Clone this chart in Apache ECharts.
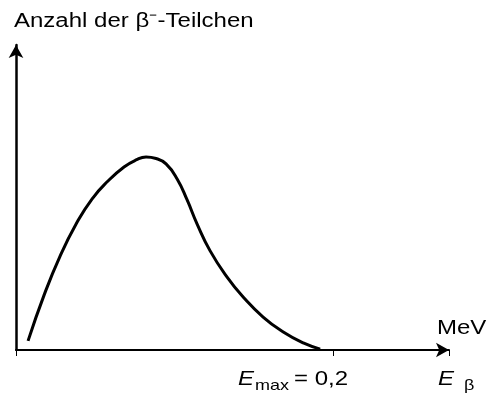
<!DOCTYPE html>
<html>
<head>
<meta charset="utf-8">
<script src="https://cdn.jsdelivr.net/npm/echarts@6/dist/echarts.min.js"></script>
<style>
  html, body { margin: 0; padding: 0; background: #fff; }
  #spektrum { width: 488px; height: 401px; }
</style>
</head>
<body>
<div id="spektrum"></div>
<script>
// Energie in MeV, Anzahl in willkürlichen Einheiten
var energie = [0.0076, 0.0177, 0.0278, 0.0379, 0.0479, 0.0580, 0.0681, 0.0757, 0.0820, 0.0883, 0.0946,
  0.1016, 0.1079, 0.1142, 0.1224, 0.1331, 0.1432, 0.1558, 0.1685, 0.1811, 0.1918];
var anzahl = [0.030, 0.180, 0.308, 0.413, 0.495, 0.554, 0.600, 0.623, 0.633, 0.628, 0.610,
  0.561, 0.492, 0.413, 0.325, 0.239, 0.174, 0.108, 0.059, 0.023, 0.003];
var eMax = 0.2;
var yName = 'Anzahl der β\u207B-Teilchen';
var xName = 'MeV';

var dados = [];
for (var i = 0; i < energie.length; i++) {
  dados.push([energie[i], anzahl[i]]);
}

var chartDom = document.getElementById('spektrum');
var myChart = echarts.init(chartDom);
var option;
var schrift = 'Liberation Sans, Arial, sans-serif';

// Texte im Original sind etwas breiter gezogen
function txt(x, y, s, font) {
  return {
    type: 'text', x: x, y: y, scaleX: 1.2,
    style: { text: s, font: font, fill: '#000', align: 'left', verticalAlign: 'top' }
  };
}

option = {
  animation: false,
  grid: {
    left: 16,
    right: 39,
    top: 45,
    bottom: 51
  },
  xAxis: {
    type: 'value',
    min: 0,
    max: 0.273,
    interval: eMax,
    axisLine: {
      symbol: ['none', 'arrow'],
      symbolSize: [11, 13],
      lineStyle: { color: '#000', width: 2 }
    },
    axisTick: {
      show: true,
      length: 6,
      lineStyle: { color: '#000', width: 1 }
    },
    axisLabel: { show: false },
    splitLine: { show: false }
  },
  yAxis: {
    type: 'value',
    min: 0,
    max: 1,
    axisLine: {
      show: true,
      symbol: ['none', 'arrow'],
      symbolSize: [11, 13],
      lineStyle: { color: '#000', width: 2.5 }
    },
    axisTick: { show: false },
    axisLabel: { show: false },
    splitLine: { show: false }
  },
  graphic: [
    txt(14, 11, yName, '20px ' + schrift),
    txt(437, 318, xName, '20px ' + schrift),
    txt(238, 369, 'E', 'italic 20px ' + schrift),
    txt(255, 378, 'max', '15px ' + schrift),
    txt(294, 369, '= 0,2', '20px ' + schrift),
    txt(438, 369, 'E', 'italic 20px ' + schrift),
    txt(464, 378, 'β', '15px ' + schrift)
  ],
  series: [
    {
      type: 'line',
      data: dados,
      smooth: 0.5,
      showSymbol: false,
      lineStyle: { color: '#000', width: 3 }
    }
  ]
};

option && myChart.setOption(option);
</script>
</body>
</html>
